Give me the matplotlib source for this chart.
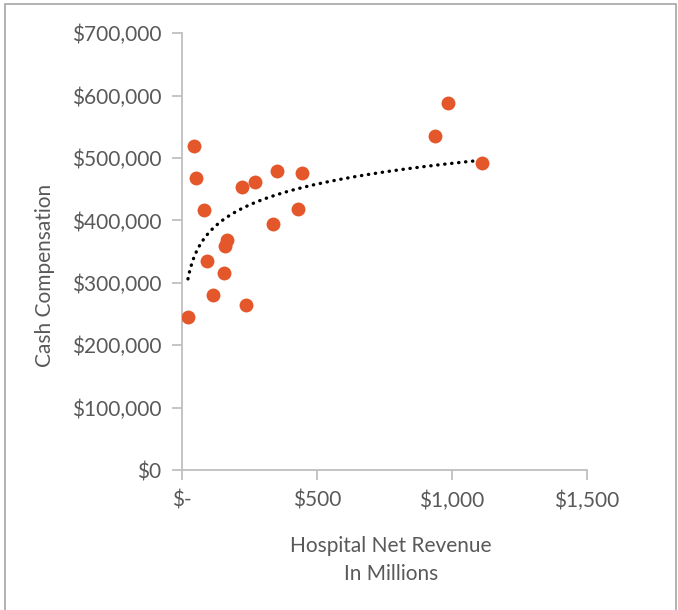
import numpy as np
import matplotlib.pyplot as plt
from matplotlib.ticker import FuncFormatter
from matplotlib.patches import Rectangle

# net revenue in $ millions, cash compensation in $
revenue = [44.5, 49.6, 81.6, 92.7, 115, 21, 157, 167, 153.5, 220,
           271, 352, 235, 335, 429, 443, 937, 985.5, 1113]
compensation = [519000, 468000, 416700, 334500, 281000, 244700, 359500, 368000, 316000, 454000,
                461500, 480000, 264000, 394000, 418800, 476500, 535800, 589000, 492500]

x_ticks = [0, 500, 1000, 1500]
y_ticks = [0, 100000, 200000, 300000, 400000, 500000, 600000, 700000]

text_color = "#595959"
axis_color = "#BFBFBF"
dot_color = "#E4572A"
fs = 15

plt.rcParams['font.family'] = ['Lato', 'DejaVu Sans']

fig = plt.figure(figsize=(6.78, 6.1), dpi=100)
ax = fig.add_axes([0.2689, 0.2295, 0.5964, 0.7159])

ax.scatter(revenue, compensation, s=100, color=dot_color, zorder=3, linewidths=0)

# logarithmic trendline over the data range
rev = np.array(revenue)
a, b = np.polyfit(np.log(rev), np.array(compensation), 1)
xs = np.linspace(rev.min(), rev.max(), 300)
ax.plot(xs, a * np.log(xs) + b, color="black", lw=2.4,
        linestyle=(0, (0.1, 2.0)), dash_capstyle="round", zorder=2)

ax.set_xlim(0, 1500)
ax.set_ylim(0, 700000)
ax.set_xticks(x_ticks)
ax.set_yticks(y_ticks)
ax.xaxis.set_major_formatter(FuncFormatter(lambda v, p: "$-" if v == 0 else f"${v:,.0f}"))
ax.yaxis.set_major_formatter(FuncFormatter(lambda v, p: f"${v:,.0f}"))

for side in ["top", "right"]:
    ax.spines[side].set_visible(False)
for side in ["left", "bottom"]:
    ax.spines[side].set_color(axis_color)
    ax.spines[side].set_linewidth(1.3)
ax.tick_params(colors=axis_color, width=1.3, length=7, labelcolor=text_color, labelsize=fs)
ax.tick_params(axis="y", pad=8)
ax.tick_params(axis="x", pad=8)

fig.text(0.577, 0.082, "Hospital Net Revenue\nIn Millions", ha="center", va="center",
         color=text_color, fontsize=fs, linespacing=1.45)
fig.text(0.066, 0.549, "Cash Compensation", ha="center", va="center", rotation=90,
         color=text_color, fontsize=fs)

# chart frame
fig.patches.append(Rectangle((0.007, -0.01), 0.99, 1.003, transform=fig.transFigure,
                             fill=False, edgecolor="#A6A6A6", linewidth=1.2))

fig.savefig("out.png", dpi=100)
